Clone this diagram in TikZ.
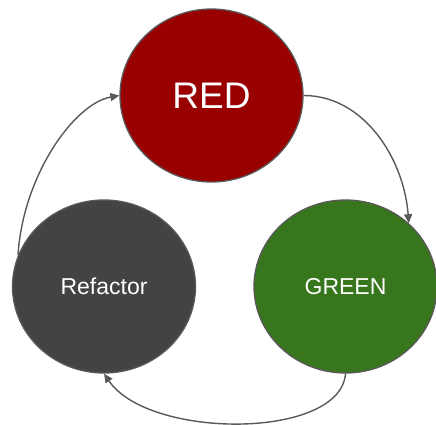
\documentclass[tikz,border=0pt]{standalone}
\usepackage{fontspec}
\setmainfont{Liberation Sans}
\usetikzlibrary{shapes.geometric,arrows.meta}
\definecolor{redfill}{HTML}{990000}
\definecolor{greenfill}{HTML}{38761D}
\definecolor{darkfill}{HTML}{434343}
\definecolor{edgegray}{HTML}{595959}
\begin{document}
\begin{tikzpicture}[x=1pt,y=-1pt,
  phase/.style={ellipse,draw=edgegray,line width=1.3pt,minimum width=183pt,
    minimum height=173pt,inner sep=0pt,text=white},
  flow/.style={draw=edgegray,line width=1.4pt,
    -{Triangle[length=9pt,width=8pt]}}]
  \useasboundingbox (0,0) rectangle (436,424);
  \node[phase,fill=redfill,font=\fontsize{37}{40}\selectfont] (red) at (211.5,95.5) {RED};
  \node[phase,fill=greenfill,font=\fontsize{23}{26}\selectfont] (green) at (345.5,286.5) {GREEN};
  \node[phase,fill=darkfill,font=\fontsize{23}{26}\selectfont] (refactor) at (104,286.5) {Refactor};
  \draw[flow] (red.east) .. controls +(60,0) and +(-5,-65) .. (green.45);
  \draw[flow] (green.south) .. controls +(-5,66) and +(45,66) .. (refactor.south);
  \draw[flow] (refactor.160) .. controls +(5,-80) and +(-45,8) .. (red.west);
\end{tikzpicture}
\end{document}
